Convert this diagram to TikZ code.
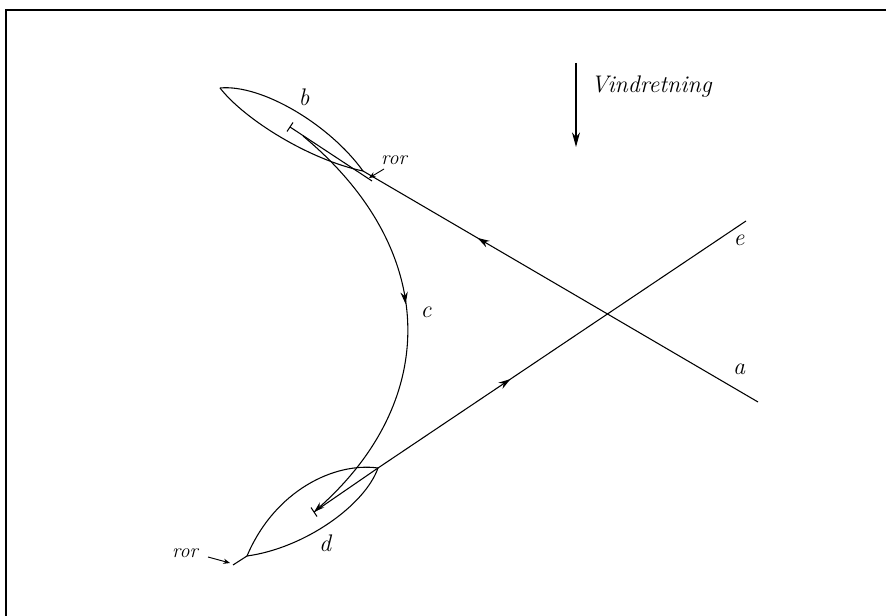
\documentclass[tikz,border=0pt]{standalone}
\usetikzlibrary{arrows.meta,decorations.markings}
\tikzset{
  midarrow/.style={postaction={decorate},decoration={markings,
    mark=at position #1 with {\arrow{Stealth[length=9pt,width=5.5pt]}}}},
  lbl/.style={font=\fontsize{18}{20}\selectfont\itshape},
  rorlbl/.style={font=\fontsize{15}{17}\selectfont\itshape},
}
\begin{document}
\begin{tikzpicture}[x=.75pt,y=-.75pt,line width=.8pt,>={Stealth[length=8pt,width=5pt]}]
\useasboundingbox (0,0) rectangle (886,616);
\draw[line width=1.4pt] (6,616)--(6,10)--(886,10);
% points
\coordinate (bowB) at (220,88);
\coordinate (sternB) at (363,171);
\coordinate (mastB) at (290,127);
\coordinate (rudB) at (372,181);
\coordinate (cStart) at (303,136);
\coordinate (bowD) at (378,468);
\coordinate (sternD) at (247,556);
\coordinate (mastD) at (314,512);
\coordinate (rudD) at (233,565);
\coordinate (aEnd) at (758,402);
\coordinate (eEnd) at (746,221);
\coordinate (wTop) at (576,63);
\coordinate (wBot) at (576,147);
% courses
\draw[midarrow=.71] (aEnd)--(sternB);
\draw[midarrow=.36] (bowD)--(eEnd);
% boat b
\draw (bowB) .. controls (262,84) and (330,125) .. (sternB);
\draw (bowB) .. controls (245,120) and (310,160) .. (sternB);
\draw (mastB)--(rudB);
\draw ([shift={(-3,4.5)}]mastB)--([shift={(3,-4.5)}]mastB);
% boat d
\draw (bowD) .. controls (335,462) and (275,490) .. (sternD);
\draw (bowD) .. controls (365,505) and (305,548) .. (sternD);
\draw (bowD)--(mastD);
\draw (sternD)--(rudD);
\draw ([shift={(-3,-4.5)}]mastD)--([shift={(3,4.5)}]mastD);
% turn c
\draw[midarrow=.46,->] (cStart) .. controls (440,250) and (440,400) .. (mastD);
% wind
\draw[->,>={Stealth[length=11pt,width=6pt]}] (wTop)--(wBot);
\node[lbl,anchor=west] (wind) at (586,87) {Vindretning};
% labels
\node[lbl] (labB) at (304,97) {b};
\node[lbl] (labC) at (426,312) {c};
\node[lbl] (labD) at (325,543) {d};
\node[lbl] (labE) at (739,240) {e};
\node[lbl] (labA) at (739,369) {a};
\node[rorlbl] (rorB) at (394,160) {ror};
\node[rorlbl] (rorD) at (185,553) {ror};
\draw[->,line width=.7pt,>={Stealth[length=5pt,width=4pt]}] (384,169)--(369,178);
\draw[->,line width=.7pt,>={Stealth[length=5pt,width=4pt]}] (208,557)--(230,563);
\end{tikzpicture}
\end{document}
